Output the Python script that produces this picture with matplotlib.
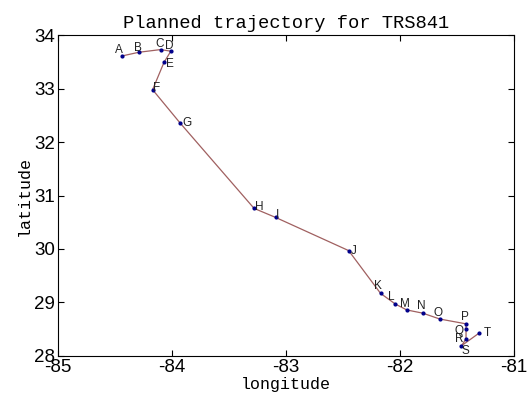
import matplotlib
matplotlib.use("Agg")
import matplotlib.pyplot as plt

# waypoints of the planned trajectory
names = ['A', 'B', 'C', 'D', 'E', 'F', 'G', 'H', 'I', 'J',
         'K', 'L', 'M', 'N', 'O', 'P', 'Q', 'R', 'S', 'T']
lon = [-84.44, -84.29, -84.10, -84.01, -84.07, -84.17, -83.93, -83.28, -83.09, -82.45,
       -82.17, -82.04, -81.94, -81.80, -81.65, -81.42, -81.42, -81.42, -81.46, -81.31]
lat = [33.61, 33.68, 33.73, 33.70, 33.49, 32.98, 32.36, 30.76, 30.59, 29.97,
       29.17, 28.97, 28.86, 28.80, 28.69, 28.60, 28.50, 28.32, 28.19, 28.42]

xticks = [-85, -84, -83, -82, -81]
yticks = [28, 29, 30, 31, 32, 33, 34]

# label offsets in points (dx, dy)
offsets = [(-2, 4), (-1, 3), (-1, 4), (-1, 4), (4, -1), (3, 1), (5, 0), (4, 1), (1, 2), (4, 0),
           (-2, 5), (-3, 5), (-1, 4), (-1, 5), (-1, 4), (-1, 5), (-5, -1), (-5, 0), (3, -4), (6, 0)]

mono = 'Liberation Mono'

fig = plt.figure(figsize=(5.32, 4.04), dpi=100)
ax = fig.add_axes([0.109, 0.119, 0.857, 0.794])

ax.plot(lon, lat, '-', color='#a06060', lw=0.9)
ax.plot(lon, lat, '.', color='#00008b', ms=4)

for n, x, y, (dx, dy) in zip(names, lon, lat, offsets):
    ax.annotate(n, (x, y), xytext=(dx, dy), textcoords='offset points',
                ha='center', va='center', fontsize=8.5, family='Liberation Sans', color='#222222')

ax.set_xlim(-85, -81)
ax.set_ylim(28, 34)
ax.set_xticks(xticks)
ax.set_yticks(yticks)
ax.set_xticklabels([str(t) for t in xticks])
ax.tick_params(direction='in', top=True, right=True, length=4, labelsize=13.5, pad=2)
for lab in ax.get_xticklabels() + ax.get_yticklabels():
    lab.set_family('Liberation Sans')

ax.set_xlabel('longitude', family=mono, fontsize=12, labelpad=1)
ax.set_ylabel('latitude', family=mono, fontsize=12, labelpad=2)
ax.set_title('Planned trajectory for TRS841', family=mono, fontsize=13.5, pad=5)

fig.savefig('out.png', dpi=100)
